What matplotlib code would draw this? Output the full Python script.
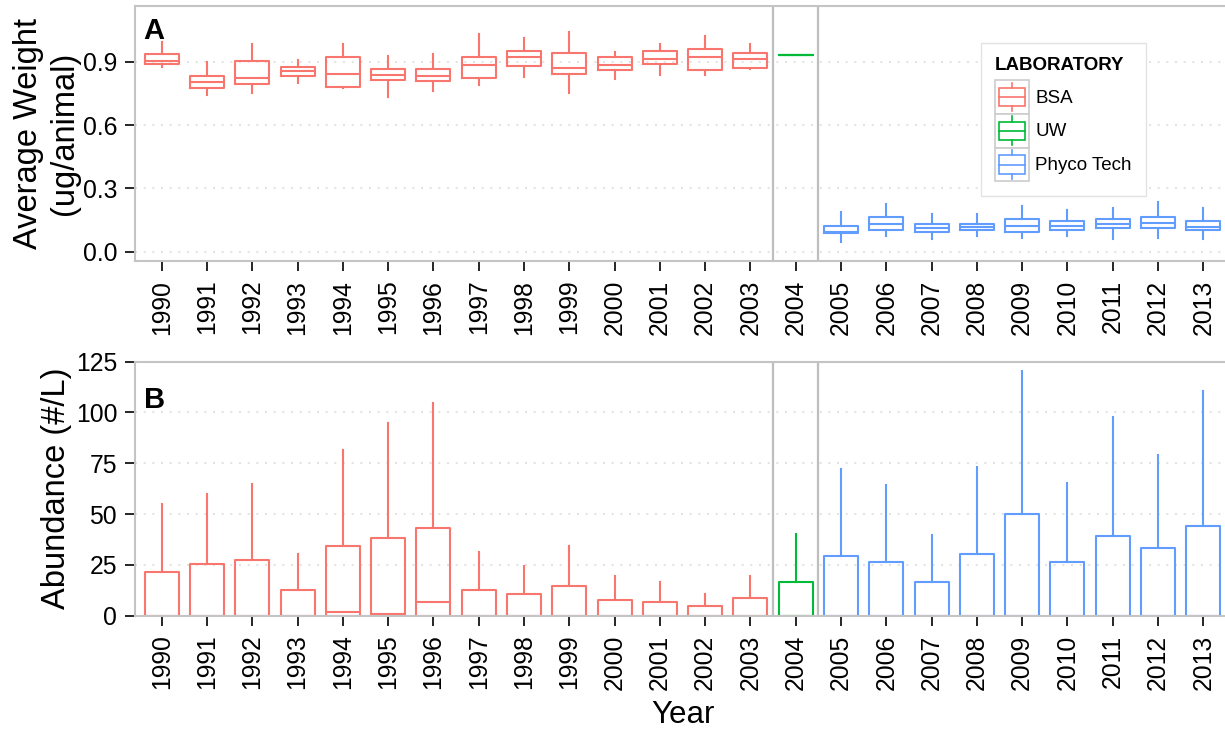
import matplotlib
matplotlib.use("Agg")
import matplotlib.pyplot as plt
from matplotlib.legend_handler import HandlerBase
from matplotlib.patches import Rectangle
from matplotlib.lines import Line2D

plt.rcParams['font.family'] = ['Liberation Sans', 'DejaVu Sans']

# ---------------- data ----------------
years = list(range(1990, 2014))
labs = ["BSA"] * 14 + ["UW"] + ["Phyco Tech"] * 9
lab_names = ["BSA", "UW", "Phyco Tech"]
lab_colors = ["#F8766D", "#00BA38", "#619CFF"]

# Panel A: average weight (ug/animal)
w_hi = [0.995, 0.898, 0.984, 0.910, 0.984, 0.927, 0.937, 1.032, 1.013, 1.043, 0.946, 0.984, 1.022, 0.984,
        0.931,
        0.187, 0.226, 0.179, 0.179, 0.217, 0.198, 0.207, 0.236, 0.207]
w_q3 = [0.939, 0.834, 0.902, 0.874, 0.921, 0.864, 0.864, 0.921, 0.951, 0.940, 0.921, 0.950, 0.959, 0.940,
        0.931,
        0.123, 0.163, 0.133, 0.133, 0.154, 0.144, 0.154, 0.163, 0.144]
w_med = [0.904, 0.806, 0.825, 0.858, 0.842, 0.837, 0.834, 0.885, 0.921, 0.872, 0.883, 0.912, 0.921, 0.912,
         0.931,
         0.095, 0.131, 0.111, 0.117, 0.120, 0.123, 0.131, 0.135, 0.118]
w_q1 = [0.892, 0.777, 0.795, 0.834, 0.779, 0.815, 0.809, 0.825, 0.882, 0.842, 0.861, 0.890, 0.863, 0.871,
        0.931,
        0.087, 0.104, 0.093, 0.104, 0.095, 0.104, 0.114, 0.114, 0.104]
w_lo = [0.874, 0.741, 0.751, 0.798, 0.775, 0.732, 0.760, 0.789, 0.827, 0.751, 0.817, 0.836, 0.836, 0.864,
        0.931,
        0.047, 0.076, 0.059, 0.076, 0.066, 0.076, 0.059, 0.066, 0.059]

# Panel B: abundance (#/L)
a_hi = [54.8, 59.7, 64.6, 30.3, 81.3, 94.9, 104.7, 31.3, 24.4, 34.1, 19.5, 16.6, 10.7, 19.5,
        40.0,
        72.3, 64.4, 39.8, 73.3, 120.3, 65.4, 97.7, 79.2, 110.5]
a_q3 = [21.6, 25.6, 27.4, 12.8, 34.3, 38.0, 43.0, 12.8, 10.8, 14.7, 7.9, 6.9, 4.9, 8.8,
        16.7,
        29.2, 26.3, 16.6, 30.2, 49.8, 26.3, 39.0, 33.1, 44.0]
a_med = [0, 0, 0, 0, 2.0, 1.0, 6.7, 0, 0, 0, 0, 0, 0, 0,
         0,
         0, 0, 0, 0, 0, 0, 0, 0, 0]
a_q1 = [0] * 24
a_lo = [0] * 24

# ---------------- figure ----------------
W, H = 1225, 729
fig = plt.figure(figsize=(W / 100, H / 100), dpi=100)

left_px, right_px = 134.5, 1230.5


def ax_rect(top, bottom):
    return [left_px / W, 1 - bottom / H, (right_px - left_px) / W, (bottom - top) / H]


axA = fig.add_axes(ax_rect(5.7, 261.0))
axB = fig.add_axes(ax_rect(361.5, 615.7))

color_of = dict(zip(lab_names, lab_colors))
positions = list(range(len(years)))
spine_col = "#C4C4C4"
TICK_FS = 17.8


def draw(ax, hi, q3, med, q1, lo):
    for i, yr in enumerate(years):
        c = color_of[labs[i]]
        stats = [dict(med=med[i], q1=q1[i], q3=q3[i], whislo=lo[i], whishi=hi[i], label=str(yr))]
        ax.bxp(stats, positions=[positions[i]], widths=0.75, showcaps=False, showfliers=False,
               boxprops=dict(color=c, lw=1.5), medianprops=dict(color=c, lw=1.5),
               whiskerprops=dict(color=c, lw=1.5), manage_ticks=False)
    ax.set_xlim(-0.6, len(years) - 0.4)
    ax.set_xticks(positions)
    ax.set_xticklabels([str(y) for y in years], rotation=90, fontsize=TICK_FS, color="black")
    for xv in (13.5, 14.5):
        ax.axvline(xv, color="#BEBEBE", lw=1.6, zorder=1)
    ax.yaxis.grid(True, linestyle=(0, (1.2, 4)), color="#DDDDDD", lw=1.2)
    ax.set_axisbelow(True)
    for s in ax.spines.values():
        s.set_color(spine_col)
        s.set_linewidth(1.5)
    ax.tick_params(axis="both", length=7.5, width=1.2, color="black", labelsize=TICK_FS, labelcolor="black")
    ax.tick_params(axis="y", pad=5)
    ax.tick_params(axis="x", pad=6)


draw(axA, w_hi, w_q3, w_med, w_q1, w_lo)
axA.set_ylim(-0.044, 1.166)
axA.set_yticks([0.0, 0.3, 0.6, 0.9])
axA.set_yticklabels(["0.0", "0.3", "0.6", "0.9"])
axA.set_ylabel("Average Weight\n(ug/animal)", fontsize=23.5, linespacing=1.2)
axA.yaxis.set_label_coords((80 - left_px) / (right_px - left_px), 0.5)
axA.text(-0.18, 1.046, "A", fontsize=21, fontweight="bold", ha="center", va="center")

draw(axB, a_hi, a_q3, a_med, a_q1, a_lo)
axB.set_ylim(0, 125)
axB.set_yticks([0, 25, 50, 75, 100, 125])
axB.set_ylabel("Abundance (#/L)", fontsize=23.5)
axB.yaxis.set_label_coords((72 - left_px) / (right_px - left_px), 0.5)
axB.set_xlabel("Year", fontsize=22.5, labelpad=7)
axB.text(-0.15, 106, "B", fontsize=21, fontweight="bold", ha="center", va="center")


# ---------------- legend ----------------
class BoxKeyHandler(HandlerBase):
    def create_artists(self, legend, orig_handle, xdescent, ydescent, width, height, fontsize, trans):
        c = orig_handle.get_color()
        x0, y0 = -xdescent, -ydescent
        bg = Rectangle((x0, y0), width, height, facecolor="white", edgecolor="#CCCCCC", lw=1.2,
                       transform=trans)
        bx = Rectangle((x0 + 0.12 * width, y0 + 0.23 * height), 0.76 * width, 0.54 * height,
                       fill=False, edgecolor=c, lw=1.2, transform=trans)
        md = Line2D([x0 + 0.12 * width, x0 + 0.88 * width], [y0 + 0.5 * height] * 2, color=c, lw=1.2,
                    transform=trans)
        wl = Line2D([x0 + 0.5 * width] * 2, [y0 + 0.08 * height, y0 + 0.23 * height], color=c, lw=1.2,
                    transform=trans)
        wu = Line2D([x0 + 0.5 * width] * 2, [y0 + 0.77 * height, y0 + 0.92 * height], color=c, lw=1.2,
                    transform=trans)
        return [bg, bx, md, wl, wu]


handles = [Line2D([], [], color=c) for c in lab_colors]
leg = axA.legend(handles, lab_names, title="LABORATORY", loc="upper left",
                 bbox_to_anchor=(980.7 / W, 1 - 43.3 / H), bbox_transform=fig.transFigure,
                 handler_map={Line2D: BoxKeyHandler()}, fontsize=13.5,
                 title_fontproperties={"weight": "bold", "size": 13.5},
                 handlelength=1.85, handleheight=2.4, labelspacing=0.0, handletextpad=0.3,
                 borderpad=0.75, borderaxespad=0.0, frameon=True, fancybox=False, alignment="left")
try:
    leg._legend_box.sep = 4
except Exception:
    pass
leg.get_frame().set_edgecolor("#E3E3E3")
leg.get_frame().set_linewidth(1.0)
leg.get_frame().set_facecolor("white")
leg.get_frame().set_alpha(1)

fig.savefig("out.png", dpi=100)
